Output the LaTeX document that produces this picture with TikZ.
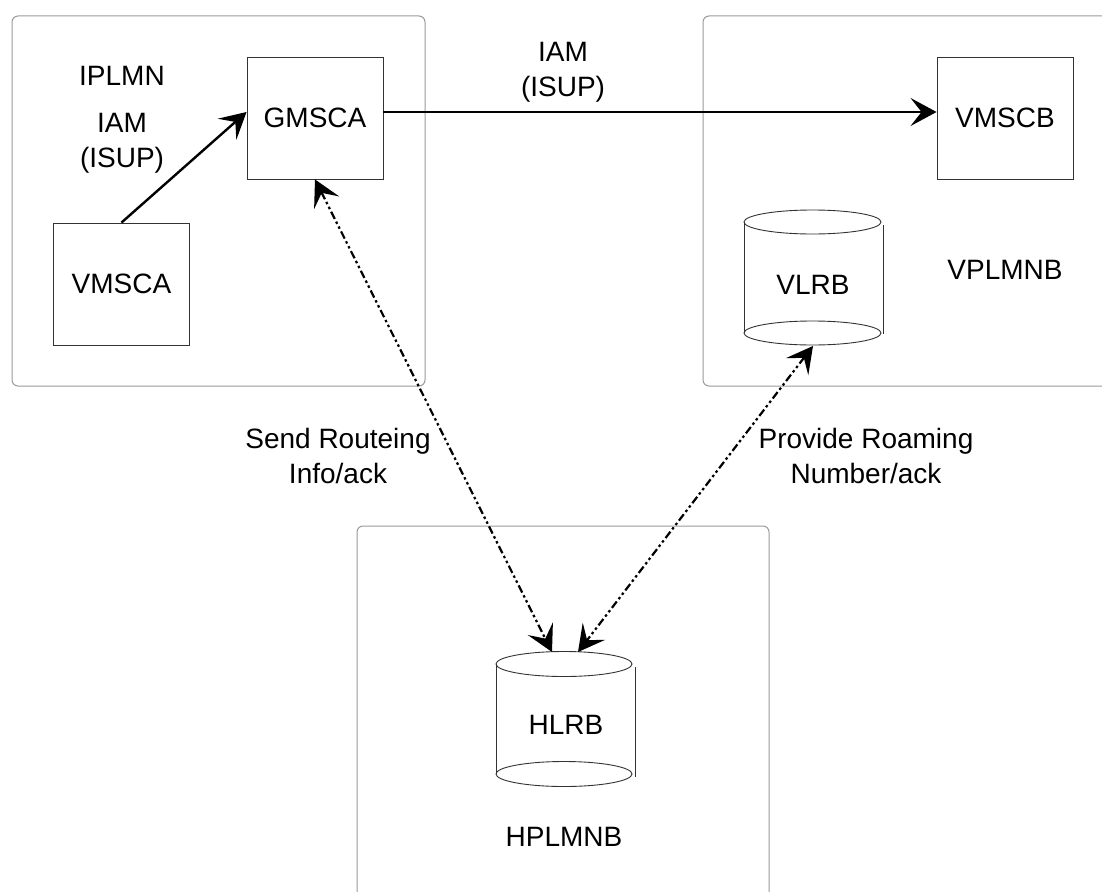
\documentclass[tikz,border=0pt]{standalone}
\usepackage{fontspec}
\setmainfont{Liberation Sans}
\usetikzlibrary{arrows.meta}
\definecolor{regionc}{HTML}{9A9A9A}
\definecolor{boxc}{HTML}{333333}
\tikzset{
  region/.style={draw=regionc, line width=1pt, rounded corners=6pt},
  mscbox/.style={draw=boxc, line width=0.9pt, minimum width=136pt, minimum height=122pt, inner sep=0pt},
  lbl/.style={inner sep=0pt, align=center, font=\fontsize{28}{35}\selectfont},
  cyl/.style={draw=boxc, line width=0.9pt},
  solidarrow/.style={line width=2.4pt, -{Stealth[length=26pt, width=28pt, inset=11pt]}},
  sigarrow/.style={line width=2.2pt, dash pattern=on 8pt off 3pt on 2.5pt off 3pt on 2.5pt off 3pt,
     {Stealth[length=26pt, width=28pt, inset=11pt]}-{Stealth[length=26pt, width=28pt, inset=11pt]}},
}
\begin{document}
\begin{tikzpicture}[x=1pt, y=-1pt]
\useasboundingbox (0,0) rectangle (1102,891);
\fill[white] (0,0) rectangle (1102,891);
% regions
\draw[region] (12,16) rectangle (425,386);
\draw[region] (703,16) rectangle (1130,386);
\draw[region] (357,526) rectangle (769,920);
% boxes
\node[mscbox, lbl] (gmsca) at (315,118) {GMSCA};
\node[mscbox, lbl] (vmsca) at (121.5,284) {VMSCA};
\node[mscbox, lbl] (vmscb) at (1005,118) {VMSCB};
% VLRB cylinder
\draw[cyl] (812.5,222) ellipse [x radius=68.5pt, y radius=12pt];
\draw[cyl] (812.5,333) ellipse [x radius=68.5pt, y radius=12pt];
\draw[cyl] (744,222) -- (744,333);
\draw[cyl] (883,225) -- (883,334);
\node[lbl] (vlrb) at (813,285) {VLRB};
\coordinate (vlrbbot) at (813,346);
% HLRB cylinder
\draw[cyl] (564,664) ellipse [x radius=68pt, y radius=12.5pt];
\draw[cyl] (564,774) ellipse [x radius=68pt, y radius=12.5pt];
\draw[cyl] (496,664) -- (496,774);
\draw[cyl] (635,667) -- (635,777);
\node[lbl] (hlrb) at (566,725) {HLRB};
\coordinate (hlrbtopA) at (552,652);
\coordinate (hlrbtopB) at (578,652);
% region labels
\node[lbl] (iplmn) at (122,76) {IPLMN};
\node[lbl] (vplmnb) at (1005,270) {VPLMNB};
\node[lbl] (hplmnb) at (564,837) {HPLMNB};
% connector labels
\node[lbl] (iamA) at (122,143) {IAM\\(ISUP)};
\node[lbl] (iamB) at (563,72) {IAM\\(ISUP)};
\node[lbl] (sri) at (338,456) {Send Routeing\\Info/ack};
\node[lbl] (prn) at (866,456) {Provide Roaming\\Number/ack};
% connectors
\draw[solidarrow] (vmsca.north) -- ([yshift=6pt]gmsca.west);
\draw[solidarrow] ([yshift=6pt]gmsca.east) -- ([yshift=6pt]vmscb.west);
\draw[sigarrow] (gmsca.south) -- (hlrbtopA);
\draw[sigarrow] (vlrbbot) -- (hlrbtopB);
\end{tikzpicture}
\end{document}
